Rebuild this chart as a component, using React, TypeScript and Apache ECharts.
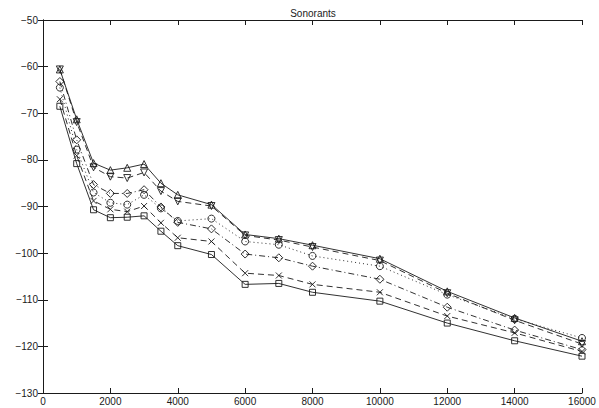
import React, { useEffect, useRef } from "react";
import * as echarts from "echarts";

const title = "Sonorants";
const freqs = [500, 1000, 1500, 2000, 2500, 3000, 3500, 4000, 5000, 6000, 7000, 8000, 10000, 12000, 14000, 16000];
const triUp = [-60.6, -71.3, -80.7, -82.2, -81.7, -80.9, -85.0, -87.5, -89.6, -96.0, -96.9, -98.3, -101.2, -108.2, -113.9, -118.9];
const triDown = [-60.6, -71.9, -81.6, -83.6, -83.9, -82.7, -86.7, -88.9, -89.9, -96.2, -97.2, -98.7, -101.6, -108.6, -114.4, -119.5];
const circles = [-64.5, -77.8, -87.0, -89.2, -89.6, -87.5, -90.4, -93.1, -92.6, -97.5, -98.2, -100.6, -102.8, -108.9, -114.1, -118.2];
const diamonds = [-63.2, -75.7, -85.3, -87.2, -87.2, -86.4, -90.1, -93.4, -94.8, -100.2, -101.0, -102.8, -105.6, -111.6, -116.5, -120.7];
const crosses = [-67.0, -79.1, -88.8, -90.6, -91.1, -89.9, -93.5, -96.7, -97.5, -104.3, -104.8, -106.7, -108.4, -113.5, -117.1, -121.1];
const squares = [-68.5, -80.8, -90.7, -92.4, -92.3, -92.0, -95.3, -98.4, -100.3, -106.7, -106.5, -108.4, -110.3, -115.0, -118.8, -122.1];

const xTicks = { min: 0, max: 16000, interval: 2000 };
const yTicks = { min: -130, max: -50, interval: 10 };

const INK = "#1a1a1a";
const FONT = "Liberation Sans";

const fmtMinus = (v: number) => String(v).replace("-", "\u2212");
const fmtPlain = (v: number) => String(v);

function mkSeries(name: string, vals: number[], symbol: string, lineType: any, rotate = 0, size = 7) {
  return {
    name,
    type: "line",
    data: freqs.map((f, i) => [f, vals[i]]),
    symbol,
    symbolSize: size,
    symbolRotate: rotate,
    showSymbol: true,
    lineStyle: { color: INK, width: 0.9, type: lineType },
    itemStyle: { color: "rgba(255,255,255,0)", borderColor: INK, borderWidth: 0.9 },
    emphasis: { disabled: true },
    z: 3,
  };
}

export default function App() {
  const ref = useRef<HTMLDivElement>(null);
  useEffect(() => {
    document.body.style.margin = "0";
    if (!ref.current) return;
    const chart = echarts.init(ref.current, undefined, { renderer: "svg" });
    const axisLine = { show: true, lineStyle: { color: INK, width: 1 } };
    const tick = { show: true, inside: true, length: 5, lineStyle: { color: INK, width: 1 } };
    chart.setOption({
      animation: false,
      backgroundColor: "#ffffff",
      title: {
        text: title,
        left: 308,
        top: 3,
        textAlign: "center",
        textStyle: { fontFamily: FONT, fontSize: 10, fontWeight: "normal", color: INK },
      },
      grid: { left: 43, right: 17, top: 20, bottom: 15, containLabel: false },
      xAxis: [
        {
          type: "value",
          ...xTicks,
          axisLine,
          axisTick: tick,
          splitLine: { show: false },
          axisLabel: { fontFamily: FONT, fontSize: 10, color: INK, margin: 3, formatter: fmtPlain },
        },
        {
          type: "value",
          position: "top",
          ...xTicks,
          axisLine,
          axisTick: tick,
          splitLine: { show: false },
          axisLabel: { show: false },
        },
      ],
      yAxis: [
        {
          type: "value",
          ...yTicks,
          axisLine,
          axisTick: tick,
          splitLine: { show: false },
          axisLabel: { fontFamily: FONT, fontSize: 10, color: INK, margin: 5, formatter: fmtMinus },
        },
        {
          type: "value",
          position: "right",
          ...yTicks,
          axisLine,
          axisTick: tick,
          splitLine: { show: false },
          axisLabel: { show: false },
        },
      ],
      series: [
        mkSeries("triangle up", triUp, "triangle", "solid"),
        mkSeries("triangle down", triDown, "triangle", [6, 4], 180),
        mkSeries("circle", circles, "circle", [1, 3]),
        mkSeries("diamond", diamonds, "diamond", [6, 3, 1, 3], 0, 8),
        mkSeries("cross", crosses, "path://M0,0L10,10M10,0L0,10", [6, 4], 0, 6),
        mkSeries("square", squares, "rect", "solid", 0, 6),
      ],
    });
    return () => chart.dispose();
  }, []);
  return <div ref={ref} style={{ width: 599, height: 408 }} />;
}
